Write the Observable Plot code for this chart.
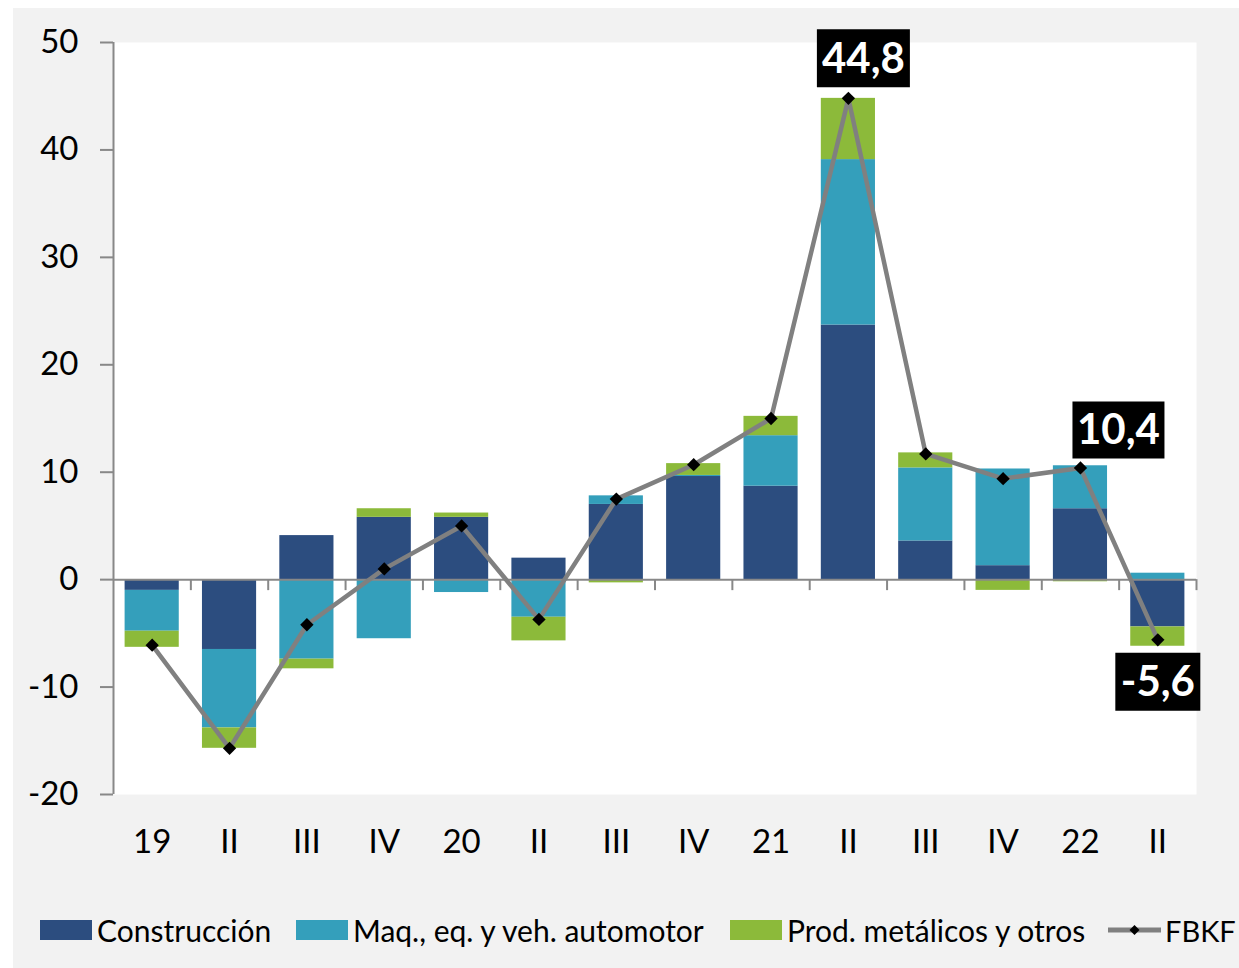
<!DOCTYPE html>
<html><head><meta charset="utf-8">
<script src="https://cdn.jsdelivr.net/npm/d3@7"></script>
<script src="https://cdn.jsdelivr.net/npm/@observablehq/plot@0.6"></script>
<style>
html,body{margin:0;padding:0;background:#fff;}
#bg{position:absolute;left:13px;top:8px;width:1226px;height:960px;background:#f2f2f2;}
#chart{position:absolute;left:0;top:0;}
#legend{position:absolute;top:912px;left:0;width:1239px;height:36px;font-family:Lato, sans-serif;font-size:30px;color:#000;}
.item{position:absolute;top:0;display:flex;align-items:center;height:36px;white-space:nowrap;}
.sw{width:52px;height:20px;margin-right:5px;}
.ln{margin-right:4px;display:block;}
</style></head><body>
<div id="bg"></div><div id="chart"></div><div id="legend"></div>
<script>
// ---- data ----
const quarterKeys = ["2019-I","2019-II","2019-III","2019-IV","2020-I","2020-II","2020-III","2020-IV","2021-I","2021-II","2021-III","2021-IV","2022-I","2022-II"];
const quarterLabels = ["19","II","III","IV","20","II","III","IV","21","II","III","IV","22","II"];
const seriesNames = ["Construcción","Maq., eq. y veh. automotor","Prod. metálicos y otros"];
const seriesColors = ["#2c4d7f","#349fbb","#8cba3a"];
const construccion = [-1.0,-6.5,4.1,5.8,5.8,2.0,7.0,9.6,8.7,23.7,3.6,1.3,6.6,-4.4];
const maquinaria   = [-3.8,-7.3,-7.4,-5.5,-1.2,-3.5,0.8,0.1,4.7,15.4,6.8,9.0,4.0,0.6];
const prodMetalicos= [-1.5,-1.9,-0.9,0.8,0.4,-2.2,-0.3,1.1,1.8,5.7,1.4,-1.0,-0.2,-1.8];
const fbkfName = "FBKF";
const fbkf = [-6.1,-15.7,-4.2,1.0,5.0,-3.7,7.5,10.7,15.0,44.8,11.7,9.4,10.4,-5.6];
const yDomain = [-20,50];
const yTicks = [-20,-10,0,10,20,30,40,50];
const calloutKeys = ["2021-II","2022-I","2022-II"];

// ---- build tables ----
const seriesValues = [construccion, maquinaria, prodMetalicos];
const rows = [];
seriesNames.forEach((s,si)=>quarterKeys.forEach((k,i)=>rows.push({key:k, serie:s, value:seriesValues[si][i]})));
const fbkfRows = quarterKeys.map((k,i)=>({key:k, value:fbkf[i], label:String(fbkf[i]).replace(".",",")}));
const callout = k => fbkfRows.filter(d=>d.key===k);

const W=1239, H=870, mL=113, mR=43, mT=42, mB=76;
const step = (W-mL-mR)/quarterKeys.length;
const font = "Lato, 'Open Sans', sans-serif";
const xFmt = k=>quarterLabels[quarterKeys.indexOf(k)];
const boxSymbol = (w,h) => ({draw(ctx){ ctx.rect(-w/2,-h/2,w,h); }});
const labelOpts = {x:"key", y:"value", text:"label", fill:"white", fontSize:42, fontWeight:"bold"};
const boxOpts = {x:"key", y:"value", fill:"black", stroke:null, r:10};
const callMarks = (k, dx, dy, w, h) => [
  Plot.dot(callout(k), {...boxOpts, symbol:boxSymbol(w,h), dx, dy}),
  Plot.text(callout(k), {...labelOpts, dx, dy:dy+1})
];

const plot = Plot.plot({
  width:W, height:H, marginLeft:mL, marginRight:mR, marginTop:mT, marginBottom:mB,
  style:{background:"transparent", fontFamily:font, color:"black"},
  x:{domain:quarterKeys, paddingInner:0.3, paddingOuter:0.15, round:false, tickFormat:xFmt, label:null},
  y:{domain:yDomain, ticks:yTicks, label:null},
  color:{domain:seriesNames, range:seriesColors},
  marks:[
    Plot.frame({fill:"white"}),
    Plot.barY(rows, {x:"key", y:"value", fill:"serie"}),
    Plot.ruleY([0], {stroke:"#888", strokeWidth:2}),
    Plot.ruleX(quarterKeys, {y1:()=>0, y2:()=>0, insetBottom:-11, dx:step/2, stroke:"#888", strokeWidth:2}),
    Plot.ruleX([quarterKeys[0]], {y1:()=>yDomain[0], y2:()=>yDomain[1], dx:-step/2, stroke:"#888", strokeWidth:2}),
    Plot.axisY({ticks:yTicks, tickSize:13, tickPadding:22, stroke:"#888", strokeWidth:2, fill:"black", fontSize:33, tickFormat:d=>String(d), label:null}),
    Plot.axisX({tickSize:0, tickPadding:35, fontSize:33, fill:"black", tickFormat:xFmt, label:null}),
    Plot.lineY(fbkfRows, {x:"key", y:"value", stroke:"#808080", strokeWidth:4.5}),
    Plot.dot(fbkfRows, {x:"key", y:"value", symbol:"diamond2", r:6, fill:"black", stroke:null}),
    ...callMarks(calloutKeys[0], 15, -40, 93, 58),
    ...callMarks(calloutKeys[1], 38, -38, 92, 57),
    ...callMarks(calloutKeys[2], 0, 42, 85, 58)
  ]
});
document.getElementById("chart").appendChild(plot);

// legend
const legend = document.getElementById("legend");
const lefts = [40,296,730,1108];
seriesNames.forEach((s,i)=>{
  const it = document.createElement("div"); it.className="item"; it.style.left=lefts[i]+"px";
  it.innerHTML = `<span class="sw" style="background:${seriesColors[i]}"></span><span>${s}</span>`;
  legend.appendChild(it);
});
const it = document.createElement("div"); it.className="item"; it.style.left=lefts[3]+"px";
it.innerHTML = `<svg class="ln" width="53" height="20"><line x1="0" x2="53" y1="10" y2="10" stroke="#808080" stroke-width="5"/><path d="M26.5,5 L31.5,10 L26.5,15 L21.5,10Z" fill="black"/></svg><span style="font-size:29px">${fbkfName}</span>`;
legend.appendChild(it);
</script>
</body></html>
